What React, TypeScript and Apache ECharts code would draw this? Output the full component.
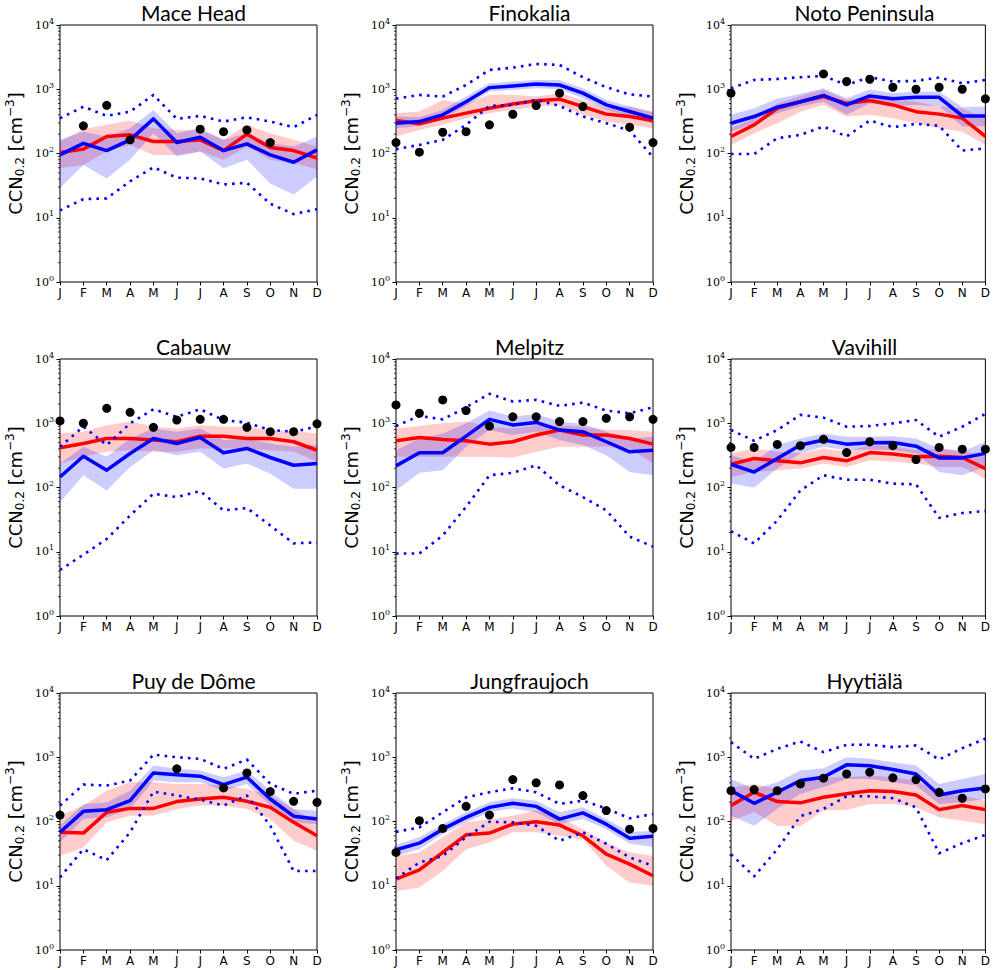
import React, { useEffect, useRef } from "react";
import * as echarts from "echarts";

const months = ["J", "F", "M", "A", "M", "J", "J", "A", "S", "O", "N", "D"];
const stations = [
  "Mace Head", "Finokalia", "Noto Peninsula",
  "Cabauw", "Melpitz", "Vavihill",
  "Puy de Dôme", "Jungfraujoch", "Hyytiälä",
];

// red model: median, lower and upper of shaded range
const redMid = [
  [104, 117, 184, 195, 154, 154, 163, 111, 200, 124, 111, 85],
  [326, 290, 355, 425, 505, 590, 660, 700, 537, 410, 376, 326],
  [184, 279, 505, 640, 770, 600, 667, 570, 448, 410, 355, 184],
  [415, 485, 580, 580, 547, 515, 630, 630, 580, 580, 515, 380],
  [534, 602, 560, 534, 473, 515, 655, 784, 655, 655, 580, 473],
  [230, 282, 260, 242, 293, 260, 350, 331, 300, 307, 293, 197],
  [68, 66, 139, 160, 160, 204, 224, 238, 206, 166, 97, 60],
  [12.7, 17.7, 33, 62, 66, 91, 99, 88, 60, 31, 21.7, 14.3],
  [177, 285, 204, 195, 238, 270, 302, 292, 259, 153, 177, 153],
];
const redLo = [
  [59, 66, 107, 136, 95, 95, 107, 80, 129, 80, 71, 57],
  [184, 233, 279, 355, 425, 477, 537, 570, 400, 314, 279, 248],
  [136, 207, 296, 448, 570, 376, 400, 355, 296, 248, 219, 136],
  [236, 300, 359, 380, 359, 359, 405, 405, 405, 380, 359, 251],
  [300, 300, 300, 300, 300, 293, 359, 430, 430, 430, 405, 236],
  [146, 174, 186, 197, 236, 209, 266, 251, 236, 209, 209, 137],
  [29, 39.5, 97, 123, 123, 157, 177, 177, 157, 109, 50, 35],
  [8.3, 9.4, 17, 37, 47, 68, 68, 60, 53, 20.4, 11.2, 10],
  [103, 139, 86, 84, 148, 153, 188, 188, 166, 116, 103, 91],
];
const redHi = [
  [154, 240, 279, 325, 248, 233, 233, 164, 279, 207, 164, 129],
  [425, 450, 680, 600, 820, 820, 770, 870, 680, 505, 537, 450],
  [248, 355, 600, 787, 980, 683, 787, 683, 640, 537, 505, 355],
  [695, 738, 935, 1060, 884, 832, 935, 884, 884, 784, 760, 695],
  [832, 905, 996, 1060, 884, 832, 935, 935, 884, 784, 784, 738],
  [340, 405, 359, 340, 405, 359, 458, 440, 380, 405, 380, 300],
  [123, 177, 302, 407, 407, 385, 385, 363, 321, 254, 157, 97],
  [29, 33, 57, 97, 107, 123, 148, 116, 76, 47, 33, 29],
  [341, 385, 321, 434, 490, 490, 519, 490, 434, 270, 253, 211],
];

// blue model: median, lower and upper of shaded range
const blueMid = [
  [95, 144, 111, 163, 346, 148, 179, 111, 141, 95, 73, 114],
  [296, 314, 400, 640, 1060, 1125, 1210, 1165, 870, 570, 450, 355],
  [296, 376, 525, 640, 800, 570, 787, 710, 750, 750, 385, 385],
  [146, 307, 186, 338, 580, 485, 602, 348, 405, 293, 222, 236],
  [217, 348, 348, 630, 1150, 940, 1030, 784, 740, 515, 359, 380],
  [230, 174, 282, 458, 547, 473, 497, 502, 440, 289, 289, 340],
  [68, 144, 153, 211, 571, 532, 507, 376, 490, 224, 121, 109],
  [36.3, 46, 76, 116, 166, 192, 172, 109, 136, 91, 55, 59],
  [302, 192, 285, 434, 490, 761, 740, 645, 550, 259, 302, 333],
];
const blueLo = [
  [29, 66, 41, 80, 207, 90, 107, 59, 80, 34, 23, 44],
  [248, 269, 342, 550, 920, 977, 1037, 1000, 724, 477, 376, 289],
  [219, 296, 425, 537, 640, 400, 600, 550, 570, 550, 262, 262],
  [59, 155, 90, 209, 380, 318, 359, 197, 236, 164, 96, 96],
  [90, 169, 186, 430, 784, 655, 738, 547, 458, 318, 175, 155],
  [115, 100, 197, 340, 430, 380, 390, 380, 340, 174, 155, 209],
  [47, 109, 116, 157, 434, 407, 407, 302, 385, 177, 97, 91],
  [29, 37, 64, 97, 139, 160, 139, 91, 109, 76, 45, 40],
  [123, 86, 157, 270, 341, 460, 460, 407, 363, 188, 199, 224],
];
const blueHi = [
  [163, 218, 184, 248, 477, 207, 248, 163, 207, 144, 129, 184],
  [376, 367, 477, 769, 1240, 1315, 1397, 1397, 1037, 683, 537, 434],
  [400, 505, 710, 850, 1035, 726, 1000, 870, 925, 925, 525, 537],
  [236, 430, 300, 580, 832, 738, 832, 547, 580, 485, 430, 458],
  [380, 580, 695, 996, 1575, 1260, 1395, 1060, 975, 738, 580, 616],
  [318, 251, 458, 580, 695, 615, 616, 630, 580, 405, 359, 515],
  [86, 187, 199, 302, 742, 660, 620, 490, 620, 302, 157, 147],
  [43, 57, 91, 139, 199, 230, 211, 139, 166, 109, 68, 72],
  [460, 321, 407, 620, 676, 1000, 945, 835, 742, 385, 460, 550],
];

// blue dotted envelope
const dotHi = [
  [353, 535, 385, 448, 815, 346, 385, 314, 366, 314, 257, 397],
  [716, 814, 770, 1167, 2000, 2170, 2475, 2390, 1537, 1075, 832, 770],
  [1035, 1396, 1446, 1540, 1610, 1167, 1540, 1320, 1350, 1520, 1240, 1396],
  [430, 884, 458, 996, 1650, 1260, 1650, 1120, 1020, 784, 738, 884],
  [905, 1300, 1150, 1770, 2870, 2180, 2310, 1860, 2100, 1575, 1430, 1770],
  [784, 534, 784, 1350, 1222, 884, 905, 996, 1120, 616, 884, 1395],
  [177, 376, 363, 434, 1097, 1000, 945, 660, 922, 385, 270, 302],
  [69, 81, 139, 238, 285, 329, 285, 188, 211, 160, 112, 131],
  [1720, 945, 1350, 1760, 1200, 1563, 1563, 1437, 1525, 922, 1383, 1937],
];
const dotLo = [
  [13, 19.5, 20, 37, 61, 42, 41, 33, 35, 16.5, 11.4, 13.6],
  [117, 136, 163, 279, 550, 570, 683, 550, 376, 296, 228, 88],
  [98, 98, 173, 195, 262, 184, 326, 257, 290, 270, 111, 120],
  [5.2, 9, 15.8, 36.7, 80, 71, 88, 44, 48, 25.6, 13.5, 14],
  [9.4, 9.4, 17.9, 50, 155, 169, 222, 108, 71, 44, 17.2, 12],
  [20.9, 13.5, 30.6, 90, 155, 132, 132, 115, 112, 33.7, 40, 43],
  [13.5, 37, 25, 68, 292, 254, 219, 177, 254, 86, 17, 17],
  [13, 23, 29, 57, 99, 97, 86, 50, 68, 45, 27.6, 20.4],
  [31, 14, 37, 121, 157, 247, 247, 230, 166, 32, 46, 62],
];

// observations (black dots)
const obs = [
  [null, 270, 563, 163, null, null, 239, 219, 233, 148, null, null],
  [148, 105, 214, 219, 279, 408, 557, 870, 537, null, 257, 148],
  [870, null, null, null, 1730, 1320, 1430, 1075, 1000, 1075, 1000, 710],
  [1085, 1000, 1710, 1480, 863, 1120, 1150, 1150, 863, 740, 740, 980],
  [1930, 1430, 2310, 1575, 905, 1260, 1260, 1060, 1060, 1195, 1260, 1150],
  [420, 420, 468, 447, 563, 350, 515, 447, 272, 420, 395, 395],
  [126, null, null, null, null, 660, null, 333, 571, 292, 206, 199],
  [33, 103, 78, 172, 126, 450, 400, 371, 253, 148, 76, 78],
  [302, 314, 302, 385, 472, 550, 585, 478, 450, 285, 230, 321],
];

const minorTickValues: number[] = [];
for (let d = 0; d < 4; d++) for (let m = 2; m <= 9; m++) minorTickValues.push(m * Math.pow(10, d));

const colLefts = [60, 396, 731];
const rowTops = [25, 359, 693];
const gridW = 257;
const gridH = 257;

const SANS = "DejaVu Sans";
const TITLE_FONT = "Lato";
const SERIF = "DejaVu Serif";

function buildOption() {
  const grid: any[] = [];
  const xAxis: any[] = [];
  const yAxis: any[] = [];
  const series: any[] = [];
  const title: any[] = [];

  stations.forEach((name, k) => {
    const r = Math.floor(k / 3);
    const c = k % 3;
    const left = colLefts[c];
    const top = rowTops[r];
    grid.push({
      left, top, width: gridW, height: gridH,
      show: true, borderColor: "#000", borderWidth: 1, backgroundColor: "transparent",
    });
    title.push({
      text: name,
      left: left + gridW / 2,
      top: top - 28,
      textAlign: "center",
      textStyle: { fontFamily: TITLE_FONT, fontSize: 21, fontWeight: 400, color: "#000" },
    });
    xAxis.push({
      type: "value", gridIndex: k, min: 0, max: 11, interval: 1,
      axisLine: { show: false },
      splitLine: { show: false },
      axisTick: { show: true, length: 3.5, inside: false, lineStyle: { color: "#000", width: 1 } },
      axisLabel: {
        margin: 5, color: "#000", fontFamily: SANS, fontSize: 12,
        formatter: (v: number) => months[Math.round(v)] ?? "",
      },
    });
    yAxis.push({
      type: "log", gridIndex: k, logBase: 10, min: 1, max: 10000, splitNumber: 4,
      axisLine: { show: false },
      splitLine: { show: false },
      axisTick: { show: true, length: 3.5, inside: false, lineStyle: { color: "#000", width: 1 } },
      axisLabel: {
        margin: 6,
        formatter: (v: number) => `{b|10}{s|${Math.round(Math.log10(v))}}`,
        rich: {
          b: { fontFamily: SERIF, fontSize: 11, lineHeight: 16, color: "#000" },
          s: { fontFamily: SERIF, fontSize: 8, lineHeight: 7, verticalAlign: "top", color: "#000" },
        },
      },
      name: "{a|CCN}{b|0.2}{a| [cm}{c|−3}{a|]}",
      nameLocation: "middle",
      nameRotate: 90,
      nameGap: 34,
      nameTextStyle: {
        rich: {
          a: { fontFamily: SANS, fontSize: 18, lineHeight: 22, color: "#000" },
          b: { fontFamily: SANS, fontSize: 12, lineHeight: 10, verticalAlign: "bottom", color: "#000" },
          c: { fontFamily: SANS, fontSize: 12, lineHeight: 10, verticalAlign: "top", color: "#000" },
        },
      },
    });

    const band = (lo: number[], hi: number[], color: string, z: number) => ({
      type: "custom", xAxisIndex: k, yAxisIndex: k, silent: true, z,
      data: lo.map((v, i) => [i, v, hi[i]]),
      encode: { x: 0, y: 1 },
      renderItem: (params: any, api: any) => {
        if (params.dataIndex !== 0) return null;
        const upper = hi.map((v, i) => api.coord([i, v]));
        const lower = lo.map((v, i) => api.coord([i, v])).reverse();
        return { type: "polygon", shape: { points: upper.concat(lower) }, style: { fill: color } };
      },
    });
    const line = (vals: number[], color: string, width: number, type: any, z: number) => ({
      type: "line", xAxisIndex: k, yAxisIndex: k, silent: true, z,
      symbol: "none", showSymbol: false,
      data: vals.map((v, i) => [i, v]),
      lineStyle: { color, width, type, cap: "butt", join: "round", opacity: 1 },
    });

    series.push(band(redLo[k], redHi[k], "rgba(255,0,0,0.2)", 1));
    series.push(band(blueLo[k], blueHi[k], "rgba(0,0,255,0.2)", 1));
    series.push(line(redMid[k], "#ff0000", 3.5, "solid", 2));
    series.push(line(blueMid[k], "#0000ff", 3.5, "solid", 3));
    series.push(line(dotHi[k], "#0000ff", 2.6, [2.6, 5.2], 4));
    series.push(line(dotLo[k], "#0000ff", 2.6, [2.6, 5.2], 4));
    series.push({
      type: "scatter", xAxisIndex: k, yAxisIndex: k, silent: true, z: 5,
      symbol: "circle", symbolSize: 9,
      itemStyle: { color: "#000", opacity: 1 },
      data: obs[k].map((v, i) => (v == null ? null : [i, v])).filter((d) => d !== null),
    });
    series.push({
      type: "custom", xAxisIndex: k, yAxisIndex: k, silent: true, z: 6, clip: false,
      data: minorTickValues.map((v) => [0, v]),
      encode: { x: 0, y: 1 },
      renderItem: (params: any, api: any) => {
        const p = api.coord([0, api.value(1)]);
        return {
          type: "line",
          shape: { x1: p[0] - 2, y1: p[1], x2: p[0], y2: p[1] },
          style: { stroke: "#000", lineWidth: 0.8 },
        };
      },
    });
  });

  return {
    animation: false,
    backgroundColor: "#fff",
    textStyle: { fontFamily: SANS },
    title, grid, xAxis, yAxis, series,
  };
}

export default function App() {
  const ref = useRef<HTMLDivElement>(null);
  useEffect(() => {
    if (!ref.current) return;
    const chart = echarts.init(ref.current, undefined, { renderer: "svg" });
    chart.setOption(buildOption() as any);
    return () => chart.dispose();
  }, []);
  return (
    <div
      ref={ref}
      style={{ position: "absolute", left: 0, top: 0, width: 993, height: 970 }}
    />
  );
}
